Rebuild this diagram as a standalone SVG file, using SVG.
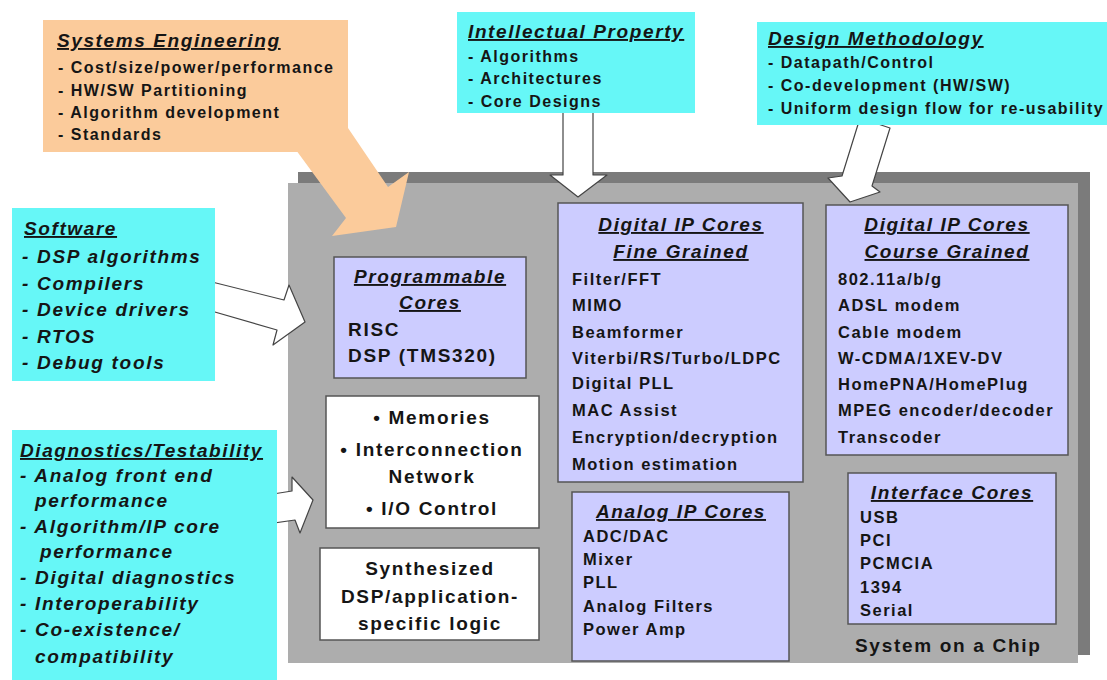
<svg xmlns="http://www.w3.org/2000/svg" width="1107" height="680" viewBox="0 0 1107 680">
<style>
text{font-family:"Liberation Sans",Arial,sans-serif;fill:#151515;font-weight:bold}
.t{font-size:19px;font-style:italic;text-decoration:underline;letter-spacing:1.6px}
.i16{font-size:16px;letter-spacing:1.5px}
.ii{font-size:19px;font-style:italic;letter-spacing:1.7px}
.c16{font-size:16.5px;letter-spacing:1.5px}
.c19{font-size:19px;letter-spacing:1.7px}
.m{text-anchor:middle}
.cyan{fill:#66F7F7}
.orange{fill:#FBCB9B}
.lav{fill:#CCCCFF;stroke:#555;stroke-width:1.5}
.wht{fill:#FFFFFF;stroke:#555;stroke-width:1.5}
.arw{fill:#FFFFFF;stroke:#444;stroke-width:1.2;stroke-linejoin:round}
</style>
<rect width="1107" height="680" fill="#FFFFFF"/>

<g id="chip">
<rect x="298" y="172" width="792" height="483" fill="#7B7B7B"/>
<rect x="288" y="183" width="790" height="480" fill="#ADADAD"/>
<text x="855" y="652" class="c19">System on a Chip</text>
</g>

<g id="connectors">
<polygon class="orange" points="296,150 346,218 332,236 396,227 409,172 388,187 348,128"/>
<polygon class="arw" points="563,110 593,110 593,175 607,175 578,197 550,175 563,175"/>
<polygon class="arw" points="860,118 890,128 872,186 880,192 850,202 828,178 842,176"/>
<polygon class="arw" points="208,281 284,300 289,285 305,322 273,345 277,330 201,308"/>
<polygon class="arw" points="235,500 292,491 292,477 313,500 300,533 295,520 240,528"/>
</g>

<g id="systems-engineering">
<rect x="43" y="20" width="305" height="132" class="orange"/>
<text x="57" y="47" class="t">Systems Engineering</text>
<text x="58" y="73" class="i16">- Cost/size/power/performance</text>
<text x="58" y="96" class="i16">- HW/SW Partitioning</text>
<text x="58" y="118" class="i16">- Algorithm development</text>
<text x="58" y="140" class="i16">- Standards</text>
</g>

<g id="intellectual-property">
<rect x="457" y="12" width="238" height="101" class="cyan"/>
<text x="468" y="38" class="t">Intellectual Property</text>
<text x="468" y="62" class="i16">- Algorithms</text>
<text x="468" y="84" class="i16">- Architectures</text>
<text x="468" y="107" class="i16">- Core Designs</text>
</g>

<g id="design-methodology">
<rect x="757" y="22" width="350" height="103" class="cyan"/>
<text x="768" y="45" class="t">Design Methodology</text>
<text x="768" y="68" class="i16">- Datapath/Control</text>
<text x="768" y="91" class="i16">- Co-development (HW/SW)</text>
<text x="768" y="114" class="i16">- Uniform design flow for re-usability</text>
</g>

<g id="software">
<rect x="12" y="208" width="203" height="173" class="cyan"/>
<text x="24" y="235" class="t">Software</text>
<text x="22" y="263" class="ii">- DSP algorithms</text>
<text x="22" y="290" class="ii">- Compilers</text>
<text x="22" y="316" class="ii">- Device drivers</text>
<text x="22" y="343" class="ii">- RTOS</text>
<text x="22" y="369" class="ii">- Debug tools</text>
</g>

<g id="diagnostics">
<rect x="12" y="430" width="265" height="250" class="cyan"/>
<text x="20" y="457" class="t">Diagnostics/Testability</text>
<text x="20" y="482" class="ii">- Analog front end</text>
<text x="35" y="507" class="ii">performance</text>
<text x="20" y="533" class="ii">- Algorithm/IP core</text>
<text x="40" y="558" class="ii">performance</text>
<text x="20" y="584" class="ii">- Digital diagnostics</text>
<text x="20" y="610" class="ii">- Interoperability</text>
<text x="20" y="636" class="ii">- Co-existence/</text>
<text x="35" y="663" class="ii">compatibility</text>
</g>

<g id="programmable-cores">
<rect x="334" y="257" width="192" height="121" class="lav"/>
<text x="430" y="283" class="t m">Programmable</text>
<text x="430" y="309" class="t m">Cores</text>
<text x="348" y="336" class="c19">RISC</text>
<text x="348" y="362" class="c19">DSP (TMS320)</text>
</g>

<g id="memories">
<rect x="326" y="396" width="213" height="132" class="wht"/>
<text x="432" y="424" class="c19 m">• Memories</text>
<text x="432" y="456" class="c19 m">• Interconnection</text>
<text x="432" y="483" class="c19 m">Network</text>
<text x="432" y="515" class="c19 m">• I/O Control</text>
</g>

<g id="synthesized">
<rect x="320" y="548" width="219" height="92" class="wht"/>
<text x="430" y="575" class="c19 m">Synthesized</text>
<text x="430" y="603" class="c19 m">DSP/application-</text>
<text x="430" y="630" class="c19 m">specific logic</text>
</g>

<g id="digital-fine">
<rect x="558" y="203" width="245" height="279" class="lav"/>
<text x="681" y="231" class="t m">Digital IP Cores</text>
<text x="681" y="258" class="t m">Fine Grained</text>
<text x="572" y="285" class="c16">Filter/FFT</text>
<text x="572" y="311" class="c16">MIMO</text>
<text x="572" y="338" class="c16">Beamformer</text>
<text x="572" y="364" class="c16">Viterbi/RS/Turbo/LDPC</text>
<text x="572" y="389" class="c16">Digital PLL</text>
<text x="572" y="416" class="c16">MAC Assist</text>
<text x="572" y="443" class="c16">Encryption/decryption</text>
<text x="572" y="470" class="c16">Motion estimation</text>
</g>

<g id="digital-coarse">
<rect x="826" y="205" width="242" height="250" class="lav"/>
<text x="947" y="231" class="t m">Digital IP Cores</text>
<text x="947" y="258" class="t m">Course Grained</text>
<text x="838" y="285" class="c16">802.11a/b/g</text>
<text x="838" y="311" class="c16">ADSL modem</text>
<text x="838" y="338" class="c16">Cable modem</text>
<text x="838" y="364" class="c16">W-CDMA/1XEV-DV</text>
<text x="838" y="390" class="c16">HomePNA/HomePlug</text>
<text x="838" y="416" class="c16">MPEG encoder/decoder</text>
<text x="838" y="443" class="c16">Transcoder</text>
</g>

<g id="analog">
<rect x="572" y="492" width="217" height="169" class="lav"/>
<text x="681" y="518" class="t m">Analog IP Cores</text>
<text x="583" y="542" class="c16">ADC/DAC</text>
<text x="583" y="565" class="c16">Mixer</text>
<text x="583" y="588" class="c16">PLL</text>
<text x="583" y="612" class="c16">Analog Filters</text>
<text x="583" y="635" class="c16">Power Amp</text>
</g>

<g id="interface">
<rect x="848" y="473" width="208" height="151" class="lav"/>
<text x="952" y="499" class="t m">Interface Cores</text>
<text x="860" y="523" class="c16">USB</text>
<text x="860" y="546" class="c16">PCI</text>
<text x="860" y="569" class="c16">PCMCIA</text>
<text x="860" y="593" class="c16">1394</text>
<text x="860" y="616" class="c16">Serial</text>
</g>
</svg>
